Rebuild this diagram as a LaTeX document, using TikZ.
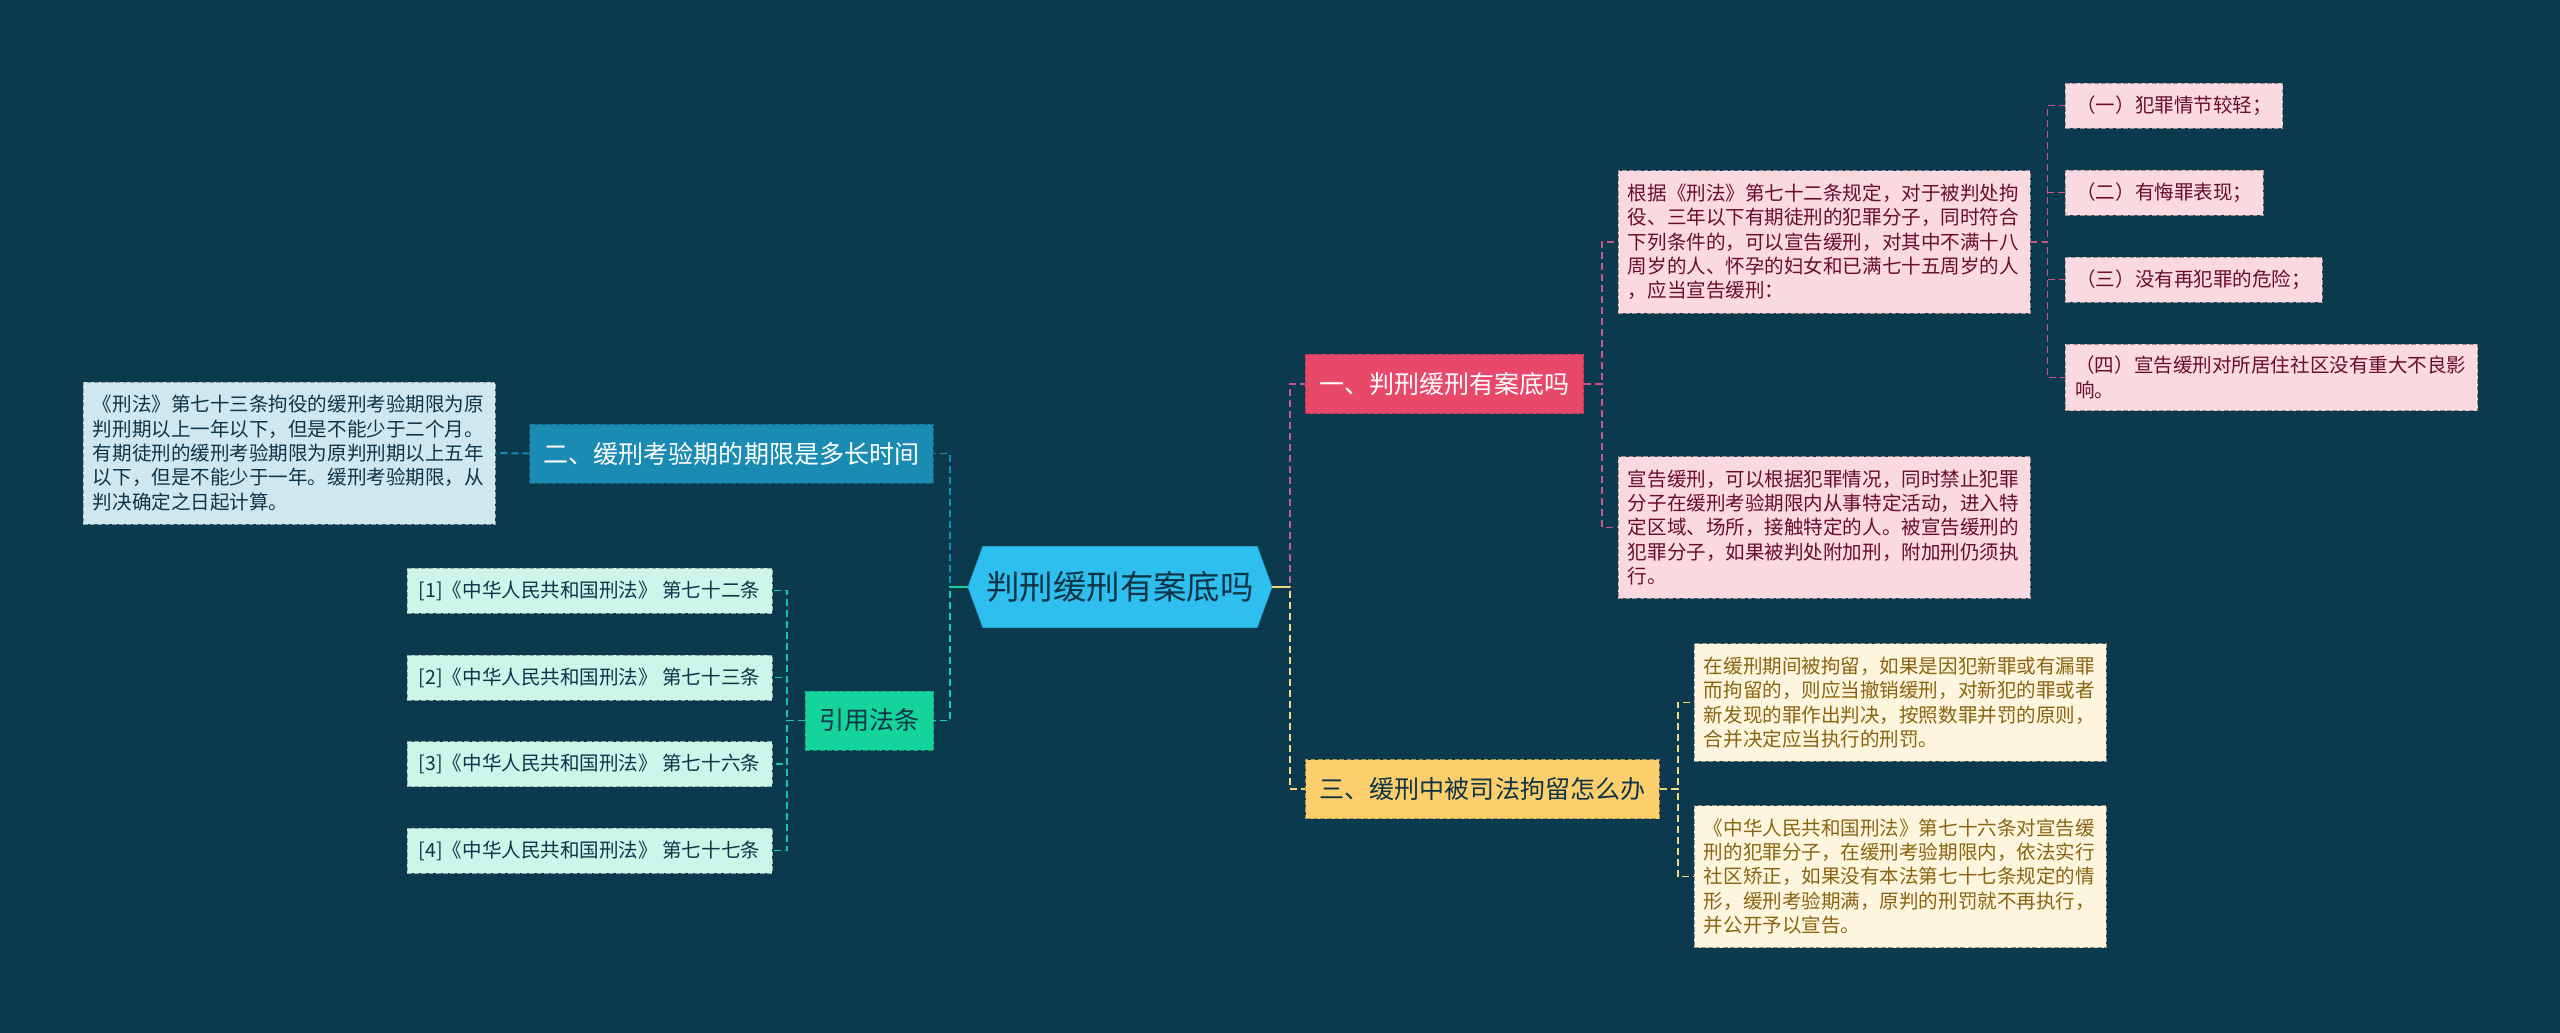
\documentclass[tikz,border=0pt]{standalone}
\usepackage{fontspec}
\setmainfont{Noto Sans CJK SC}
\usepackage{xcolor}
\usetikzlibrary{shapes, positioning}

\definecolor{bgc}{HTML}{0B3A4E}
\definecolor{rootc}{HTML}{2EBFEF}
\definecolor{darkt}{HTML}{0E3447}
\definecolor{bluec}{HTML}{1A8BB3}
\definecolor{bluel}{HTML}{CFE8EF}
\definecolor{greenc}{HTML}{14D39B}
\definecolor{greenl}{HTML}{CDF5EA}
\definecolor{pinkc}{HTML}{E8496B}
\definecolor{pinkl}{HTML}{FAD9E1}
\definecolor{pinkt}{HTML}{6A0C2C}
\definecolor{pinkln}{HTML}{C9558A}
\definecolor{yelc}{HTML}{FDCF6C}
\definecolor{yell}{HTML}{FDF5DD}
\definecolor{yelt}{HTML}{8A6410}
\definecolor{yelln}{HTML}{F4D67C}

\begin{document}
\begin{tikzpicture}[x=0.025cm, y=-0.025cm,
  box/.style={draw, dash pattern=on 0.12cm off 0.06cm, line width=0.6pt},
  topic/.style={box, inner xsep=0.35cm, minimum height=1.475cm, font=\fontsize{17.8}{21}\selectfont},
  leaf/.style={box, text width=9.8cm, align=left, inner xsep=0.25cm, inner ysep=0.33cm, font=\fontsize{13.9}{17.3}\selectfont},
  item/.style={box, inner xsep=0.275cm, minimum height=1.125cm, font=\fontsize{13.9}{17.3}\selectfont},
  link/.style={dash pattern=on 0.175cm off 0.1cm, line width=1.4pt}]
\useasboundingbox (0,0) rectangle (2560,1033);
\fill [bgc] (0,0) rectangle (2560,1033);

% centre
\node (root) [shape=signal, signal to=east and west, signal pointer angle=140, fill=rootc, draw=rootc!85!black, minimum width=7.6cm, minimum height=2.025cm, inner xsep=0pt, text=darkt, font=\fontsize{23.8}{28}\selectfont] at (1120,587) {判刑缓刑有案底吗};

% left side
\node (two) [topic, fill=bluec, draw=bluec!75!black, text=white] at (731.5,453.5) {二、缓刑考验期的期限是多长时间};
\node (twoa) [leaf, fill=bluel, draw=bluel!70!black, text=darkt] at (289,453) {《刑法》第七十三条拘役的缓刑考验期限为原\\判刑期以上一年以下，但是不能少于二个月。\\有期徒刑的缓刑考验期限为原判刑期以上五年\\以下，但是不能少于一年。缓刑考验期限，从\\判决确定之日起计算。};
\node (cite) [topic, fill=greenc, draw=greenc!75!black, text=darkt] at (869.5,720.5) {引用法条};
\node (r1) [item, fill=greenl, draw=greenl!70!black, text=darkt, minimum width=9.125cm] at (589.5,590.5) {[1]《中华人民共和国刑法》 第七十二条};
\node (r2) [item, fill=greenl, draw=greenl!70!black, text=darkt, minimum width=9.125cm] at (589.5,677.5) {[2]《中华人民共和国刑法》 第七十三条};
\node (r3) [item, fill=greenl, draw=greenl!70!black, text=darkt, minimum width=9.125cm] at (589.5,764) {[3]《中华人民共和国刑法》 第七十六条};
\node (r4) [item, fill=greenl, draw=greenl!70!black, text=darkt, minimum width=9.125cm] at (589.5,850.5) {[4]《中华人民共和国刑法》 第七十七条};

% right side
\node (one) [topic, fill=pinkc, draw=pinkc!75!black, text=white] at (1444.5,384) {一、判刑缓刑有案底吗};
\node (onea) [leaf, fill=pinkl, draw=pinkl!65!black, text=pinkt] at (1824,242) {根据《刑法》第七十二条规定，对于被判处拘\\役、三年以下有期徒刑的犯罪分子，同时符合\\下列条件的，可以宣告缓刑，对其中不满十八\\周岁的人、怀孕的妇女和已满七十五周岁的人\\，应当宣告缓刑：};
\node (oneb) [leaf, fill=pinkl, draw=pinkl!65!black, text=pinkt] at (1824,527.5) {宣告缓刑，可以根据犯罪情况，同时禁止犯罪\\分子在缓刑考验期限内从事特定活动，进入特\\定区域、场所，接触特定的人。被宣告缓刑的\\犯罪分子，如果被判处附加刑，附加刑仍须执\\行。};
\node (s1) [item, anchor=west, fill=pinkl, draw=pinkl!65!black, text=pinkt] at (2065,105.5) {（一）犯罪情节较轻；};
\node (s2) [item, anchor=west, fill=pinkl, draw=pinkl!65!black, text=pinkt] at (2065,192.5) {（二）有悔罪表现；};
\node (s3) [item, anchor=west, fill=pinkl, draw=pinkl!65!black, text=pinkt] at (2065,279.5) {（三）没有再犯罪的危险；};
\node (s4) [item, anchor=west, fill=pinkl, draw=pinkl!65!black, text=pinkt, text width=9.8cm, align=left, inner xsep=0.25cm, inner ysep=0.3cm] at (2065,377.5) {（四）宣告缓刑对所居住社区没有重大不良影\\响。};
\node (three) [topic, fill=yelc, draw=yelc!70!black, text=darkt] at (1482.5,789) {三、缓刑中被司法拘留怎么办};
\node (threea) [leaf, fill=yell, draw=yell!60!black, text=yelt] at (1900,702.5) {在缓刑期间被拘留，如果是因犯新罪或有漏罪\\而拘留的，则应当撤销缓刑，对新犯的罪或者\\新发现的罪作出判决，按照数罪并罚的原则，\\合并决定应当执行的刑罚。};
\node (threeb) [leaf, fill=yell, draw=yell!60!black, text=yelt] at (1900,876.5) {《中华人民共和国刑法》第七十六条对宣告缓\\刑的犯罪分子，在缓刑考验期限内，依法实行\\社区矫正，如果没有本法第七十七条规定的情\\形，缓刑考验期满，原判的刑罚就不再执行，\\并公开予以宣告。};

% connectors
\draw [link, bluec] (root.west) -- ++(-18,0) |- (two.east);
\draw [link, greenc] (root.west) -- ++(-18,0) |- (cite.east);
\draw [greenc, line width=1.4pt] (root.west) -- ++(-18,0);
\draw [link, bluec] (two.west) -- (twoa.east);
\draw [link, greenc!85!bluec] (cite.west) -- ++(-18,0) |- (r1.east);
\draw [link, greenc!85!bluec] (cite.west) -- ++(-18,0) |- (r2.east);
\draw [link, greenc!85!bluec] (cite.west) -- ++(-18,0) |- (r3.east);
\draw [link, greenc!85!bluec] (cite.west) -- ++(-18,0) |- (r4.east);

\draw [link, pinkln] (root.east) -- ++(18,0) |- (one.west);
\draw [link, yelln] (root.east) -- ++(18,0) |- (three.west);
\draw [yelln, line width=1.4pt] (root.east) -- ++(18,0);
\draw [link, pinkln] (one.east) -- ++(18,0) |- (onea.west);
\draw [link, pinkln] (one.east) -- ++(18,0) |- (oneb.west);
\draw [link, pinkln] (onea.east) -- ++(17,0) |- (s1.west);
\draw [link, pinkln] (onea.east) -- ++(17,0) |- (s2.west);
\draw [link, pinkln] (onea.east) -- ++(17,0) |- (s3.west);
\draw [link, pinkln] (onea.east) -- ++(17,0) |- (s4.west);
\draw [link, yelln] (three.east) -- ++(18,0) |- (threea.west);
\draw [link, yelln] (three.east) -- ++(18,0) |- (threeb.west);
\end{tikzpicture}
\end{document}
